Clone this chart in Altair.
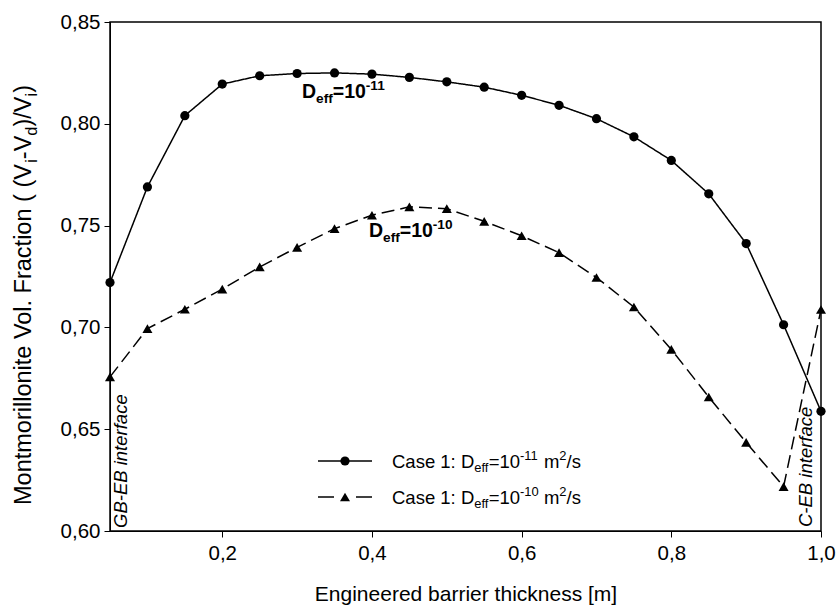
import altair as alt
import pandas as pd

# ---------------- data ----------------
thickness = [0.05, 0.10, 0.15, 0.20, 0.25, 0.30, 0.35, 0.40, 0.45, 0.50,
             0.55, 0.60, 0.65, 0.70, 0.75, 0.80, 0.85, 0.90, 0.95, 1.00]
frac_d11 = [0.722, 0.769, 0.804, 0.8195, 0.8236, 0.8247, 0.8250, 0.8244, 0.8228, 0.8206,
            0.818, 0.814, 0.8091, 0.8025, 0.7936, 0.782, 0.7656, 0.7412, 0.7013, 0.6588]
frac_d10 = [0.6757, 0.6994, 0.7089, 0.7188, 0.7297, 0.7393, 0.7485, 0.7551, 0.7592, 0.7583,
            0.7521, 0.745, 0.7367, 0.7245, 0.710, 0.6892, 0.6658, 0.6435, 0.6218, 0.7088]
series_names = ["d11", "d10"]
x_ticks = [0.2, 0.4, 0.6, 0.8, 1.0]
y_ticks = [0.60, 0.65, 0.70, 0.75, 0.80, 0.85]

W, H = 711, 509
PAD_L, PAD_T = 110, 22
FONT = "Liberation Sans"

df = pd.DataFrame({
    "x": thickness * 2,
    "v": frac_d11 + frac_d10,
    "series": [series_names[0]] * len(thickness) + [series_names[1]] * len(thickness),
})

# ---------------- rich-text helper ----------------
REG = {' ': 278, '(': 333, ')': 333, '-': 333, '/': 278, '.': 278, ':': 278, '=': 584, ',': 278,
       '[': 278, ']': 278, 'A': 667, 'B': 667, 'C': 722, 'D': 722, 'E': 667, 'F': 611, 'G': 778,
       'M': 833, 'V': 667, 'a': 556, 'b': 556, 'c': 500, 'd': 556, 'e': 556, 'f': 278, 'g': 556,
       'h': 556, 'i': 222, 'k': 500, 'l': 222, 'm': 833, 'n': 556, 'o': 556, 'r': 333, 's': 500,
       't': 278}
for _d in "0123456789":
    REG[_d] = 556
BOLD = dict(REG)
BOLD.update({'f': 333, 'e': 556, 'D': 722, 'i': 278, 'r': 389, 't': 333})


def rich(segs, x0, y0, fs, bold=False, rotate=False):
    """segs: (text, kind[, leading_gap_in_font_units])"""
    table = BOLD if bold else REG
    rows = []
    adv = 0.0
    for seg in segs:
        text, kind = seg[0], seg[1]
        gap = seg[2] if len(seg) > 2 else 0
        if kind == "n":
            size, perp = fs, 0.0
        elif kind == "sub":
            size, perp = fs * 0.7, fs * 0.25
        else:
            size, perp = fs * 0.7, -fs * 0.42
        adv += gap * fs / 1000.0
        if rotate:
            rows.append({"px": x0 + perp, "py": y0 - adv, "t": text, "fs": size})
        else:
            rows.append({"px": x0 + adv, "py": y0 + perp, "t": text, "fs": size})
        adv += sum(table.get(c, 556) for c in text) * size / 1000.0
    return rows, adv


def text_layer(rows, weight="normal", style="normal", angle=0):
    d = pd.DataFrame(rows)
    return alt.Chart(d).mark_text(
        align="left", baseline="alphabetic", font=FONT, fontWeight=weight,
        fontStyle=style, angle=angle, color="black"
    ).encode(
        x=alt.X("px:Q", scale=None, axis=None),
        y=alt.Y("py:Q", scale=None, axis=None),
        text="t:N",
        size=alt.Size("fs:Q", scale=None, legend=None),
    )


# ---------------- data layers ----------------
xs = alt.Scale(domain=[0.05, 1.0], nice=False, zero=False)
ys = alt.Scale(domain=[0.60, 0.85], nice=False, zero=False)

x_enc = alt.X("x:Q", scale=xs, axis=alt.Axis(
    values=x_ticks, labelExpr="replace(format(datum.value, '.1f'), '.', ',')",
    title="Engineered barrier thickness [m]", titleFont=FONT, titleFontSize=21,
    titleFontWeight="normal", titleColor="black", titlePadding=20,
    labelFont=FONT, labelFontSize=20.5, labelColor="black", labelPadding=6,
    tickSize=6, tickColor="black", domainColor="black", grid=False, labelFlush=False))
y_enc = alt.Y("v:Q", scale=ys, axis=alt.Axis(
    values=y_ticks, labelExpr="replace(format(datum.value, '.2f'), '.', ',')",
    title=None, labelFont=FONT, labelFontSize=20.5, labelColor="black", labelPadding=4,
    tickSize=6, tickColor="black", domainColor="black", grid=False))

lines = alt.Chart(df).mark_line(color="black", strokeWidth=1.5).encode(
    x=x_enc, y=y_enc,
    strokeDash=alt.StrokeDash("series:N", scale=alt.Scale(domain=series_names, range=[[1, 0], [13, 6]]),
                              legend=None),
    detail="series:N",
)
circles = alt.Chart(df[df.series == "d11"]).mark_point(
    shape="circle", filled=True, color="black", size=85, opacity=1).encode(x="x:Q", y="v:Q")
tris = alt.Chart(df[df.series == "d10"]).mark_point(
    shape="triangle-up", filled=True, color="black", size=100, opacity=1).encode(x="x:Q", y="v:Q")

layers = [lines, circles, tris]

# y-axis title (rotated, with subscripts)
YT_FS = 23.5
ytitle_segs = [("Montmorillonite Vol. Fraction ( (V", "n"), ("i", "sub"), ("-V", "n"), ("d", "sub"),
               (")/V", "n"), ("i", "sub"), (")", "n")]
_, ylen = rich(ytitle_segs, 0, 0, YT_FS)
yrows, _ = rich(ytitle_segs, 31 - PAD_L, (295 - PAD_T) + ylen / 2, YT_FS, rotate=True)
layers.append(text_layer(yrows, angle=270))

# curve labels
a1, _ = rich([("D", "n"), ("eff", "sub"), ("=10", "n"), ("-11", "sup")], 302 - PAD_L, 98 - PAD_T, 19.5, bold=True)
a2, _ = rich([("D", "n"), ("eff", "sub"), ("=10", "n"), ("-10", "sup")], 369 - PAD_L, 237 - PAD_T, 19.5, bold=True)
layers.append(text_layer(a1 + a2, weight="bold"))

# interface labels
gb, _ = rich([("GB-EB interface", "n")], 127 - PAD_L, 528 - PAD_T, 18.5, rotate=True)
ce, _ = rich([("C-EB interface", "n")], 812 - PAD_L, 527 - PAD_T, 18.5, rotate=True)
layers.append(text_layer(gb + ce, style="italic", angle=270))

# legend
LEG_Y1, LEG_Y2 = 461 - PAD_T, 497 - PAD_T
one = pd.DataFrame({"a": [0]})
leg_marks = [
    alt.Chart(one).mark_rule(color="black", strokeWidth=1.5).encode(
        x=alt.value(318 - PAD_L), x2=alt.value(372 - PAD_L), y=alt.value(LEG_Y1)),
    alt.Chart(one).mark_rule(color="black", strokeWidth=1.5).encode(
        x=alt.value(318 - PAD_L), x2=alt.value(334 - PAD_L), y=alt.value(LEG_Y2)),
    alt.Chart(one).mark_rule(color="black", strokeWidth=1.5).encode(
        x=alt.value(356 - PAD_L), x2=alt.value(372 - PAD_L), y=alt.value(LEG_Y2)),
    alt.Chart(one).mark_point(shape="circle", filled=True, color="black", size=85, opacity=1).encode(
        x=alt.value(345 - PAD_L), y=alt.value(LEG_Y1)),
    alt.Chart(one).mark_point(shape="triangle-up", filled=True, color="black", size=100, opacity=1).encode(
        x=alt.value(345 - PAD_L), y=alt.value(LEG_Y2)),
]
layers += leg_marks

leg_fs = 18.5
l1, _ = rich([("Case 1: D", "n"), ("eff", "sub"), ("=10", "n"), ("-11", "sup"), ("m", "n", 278), ("2", "sup"),
              ("/s", "n")], 392 - PAD_L, LEG_Y1 + 6.5, leg_fs)
l2, _ = rich([("Case 1: D", "n"), ("eff", "sub"), ("=10", "n"), ("-10", "sup"), ("m", "n", 278), ("2", "sup"),
              ("/s", "n")], 392 - PAD_L, LEG_Y2 + 6.5, leg_fs)
layers.append(text_layer(l1 + l2))

chart = alt.layer(*layers).properties(
    width=W, height=H,
    autosize=alt.AutoSizeParams(type="none"),
    padding={"left": PAD_L, "top": PAD_T, "right": 836 - PAD_L - W, "bottom": 613 - PAD_T - H},
    background="white",
).configure_view(stroke="black", strokeWidth=1.5)

chart.save("out.html", embed_options={"renderer": "svg", "actions": False})
